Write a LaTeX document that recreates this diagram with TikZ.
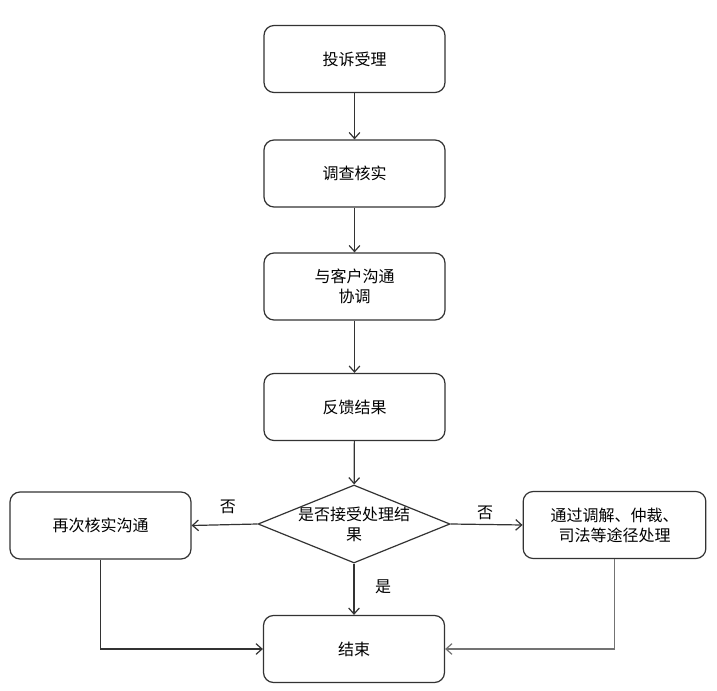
\documentclass[tikz,border=0pt]{standalone}
\usepackage{fontspec}
\setmainfont{Noto Sans CJK SC}
\usetikzlibrary{shapes.geometric,arrows.meta}

\tikzset{
  flowbox/.style={draw=black!80, fill=white, line width=0.9pt, rounded corners=7.5pt,
    minimum width=135.75pt, minimum height=50.25pt, inner sep=0pt, align=center,
    font=\fontsize{12}{15}\selectfont},
  decision/.style={diamond, draw=black!80, fill=white, line width=0.9pt, shape aspect=2.46,
    minimum width=144pt, minimum height=58.5pt, inner xsep=-3pt, inner ysep=0pt, align=center,
    font=\fontsize{12}{15}\selectfont},
  flowline/.style={draw=black!80, line width=0.9pt, -{Straight Barb[length=4.5pt,width=8pt]}},
  flowlabel/.style={inner sep=0pt, font=\fontsize{12}{15}\selectfont}
}

\begin{document}
\begin{tikzpicture}
% Complaint handling flow, laid out on the 717 x 691 pixel grid
\def\pxsz{0.75pt}
\begin{scope}[x=\pxsz, y=-\pxsz]
  % Page frame
  \useasboundingbox (0,0) rectangle (717,691);
  \fill[white] (0,0) rectangle (717,691);
  % Main column
  \node[flowbox] (tousu) at (354.5,59) {投诉受理};
  \node[flowbox] (diaocha) at (354.5,173.5) {调查核实};
  \node[flowbox] (goutong) at (354.5,286.5) {与客户沟通\\协调};
  \node[flowbox] (fankui) at (354.5,407) {反馈结果};
  \node[decision] (panduan) at (354,524) {是否接受处理结\\果};
  \node[flowbox] (jieshu) at (354,649) {结束};
  % Side branches
  \node[flowbox] (zaici) at (100.5,525.5) {再次核实沟通};
  \node[flowbox, minimum width=137pt] (tujing) at (614.5,525) {通过调解、仲裁、\\司法等途径处理};
  % Connectors
  \draw[flowline] (tousu) -- (diaocha);
  \draw[flowline] (diaocha) -- (goutong);
  \draw[flowline] (goutong) -- (fankui);
  \draw[flowline] (fankui) -- (panduan);
  \draw[flowline] (panduan.west) -- (zaici.east)
    node[flowlabel, pos=0.45, yshift=13pt] (foul) {否};
  \draw[flowline] (panduan.east) -- (tujing.west)
    node[flowlabel, pos=0.48, yshift=9pt] (four) {否};
  \draw[flowline] (panduan.south) -- (jieshu.north)
    node[flowlabel, midway, xshift=21.75pt, yshift=1.5pt] (shi) {是};
  \draw[flowline] (zaici.south) |- (jieshu.west);
  \draw[flowline, draw=black!55] (tujing.south) |- (jieshu.east);
\end{scope}
\end{tikzpicture}
\end{document}
